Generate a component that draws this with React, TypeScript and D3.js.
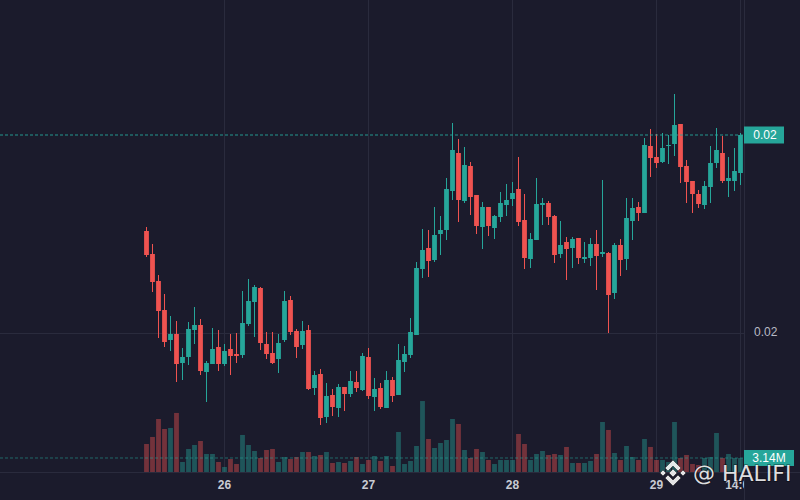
import React from 'react';
import * as d3 from 'd3';

// hourly candles, first bar = 25th 11:00
const startTime = new Date(Date.UTC(2024, 2, 25, 11, 0));

const opens = [
  0.020102, 0.020079, 0.020052, 0.020023, 0.019993, 0.019999, 0.01997, 0.019976, 0.020003, 0.020008,
  0.019961, 0.019969, 0.019986, 0.019969, 0.019984, 0.019979, 0.019978, 0.020009, 0.020031, 0.020045,
  0.019989, 0.01998, 0.019974, 0.019993, 0.020033, 0.020002, 0.019988, 0.020003, 0.019945, 0.019959,
  0.019916, 0.019938, 0.019925, 0.019946, 0.019939, 0.019951, 0.019943, 0.019976, 0.019936, 0.019945,
  0.019925, 0.019953, 0.019938, 0.019971, 0.019978, 0.019998, 0.020064, 0.020085, 0.020073, 0.020099,
  0.020103, 0.020142, 0.02018, 0.020132, 0.020167, 0.020138, 0.020106, 0.020126, 0.020105, 0.020116,
  0.020128, 0.020134, 0.020144, 0.020113, 0.020074, 0.020093, 0.020128, 0.02013, 0.020117, 0.020079,
  0.020091, 0.020085, 0.020095, 0.020074, 0.020075, 0.020089, 0.020079, 0.02008, 0.02004, 0.020088,
  0.020074, 0.020112, 0.020126, 0.02012, 0.020187, 0.020176, 0.020171, 0.020187, 0.020189, 0.020209,
  0.020167, 0.020152, 0.020139, 0.020128, 0.020146, 0.02017, 0.02018, 0.020152, 0.020152, 0.02016,
];

const highs = [
  0.020106, 0.020089, 0.020058, 0.020039, 0.020017, 0.020012, 0.019985, 0.020011, 0.020026, 0.020014,
  0.019972, 0.020005, 0.020003, 0.019989, 0.019999, 0.02, 0.020042, 0.020054, 0.020048, 0.020046,
  0.020001, 0.020001, 0.019999, 0.020042, 0.020037, 0.020004, 0.020012, 0.020008, 0.019962, 0.019964,
  0.01995, 0.019944, 0.019949, 0.019946, 0.019962, 0.019962, 0.01998, 0.019985, 0.019955, 0.01995,
  0.019962, 0.019956, 0.019989, 0.019987, 0.020015, 0.020071, 0.020104, 0.020103, 0.020126, 0.020117,
  0.020155, 0.02021, 0.020194, 0.020186, 0.020171, 0.020138, 0.020131, 0.020126, 0.020118, 0.020141,
  0.020149, 0.020151, 0.020176, 0.020139, 0.0201, 0.020155, 0.020135, 0.020132, 0.020118, 0.020112,
  0.020096, 0.020096, 0.020095, 0.020091, 0.020095, 0.020103, 0.020153, 0.020081, 0.02009, 0.020094,
  0.020135, 0.020135, 0.020131, 0.020195, 0.020204, 0.020199, 0.0202, 0.020198, 0.020239, 0.020209,
  0.020173, 0.020152, 0.020143, 0.020152, 0.020187, 0.020205, 0.020197, 0.020176, 0.020185, 0.0202,
];

const lows = [
  0.020076, 0.020041, 0.019995, 0.019986, 0.019982, 0.019951, 0.019953, 0.019968, 0.019989, 0.019958,
  0.019931, 0.019969, 0.019962, 0.019967, 0.019958, 0.01997, 0.019975, 0.020007, 0.019996, 0.019983,
  0.019974, 0.019969, 0.01996, 0.019991, 0.019998, 0.019975, 0.019984, 0.019943, 0.019938, 0.019908,
  0.01991, 0.019917, 0.019916, 0.019922, 0.019936, 0.019941, 0.019942, 0.019934, 0.019922, 0.019924,
  0.019925, 0.019931, 0.019938, 0.019961, 0.019975, 0.019998, 0.020055, 0.020056, 0.020071, 0.020078,
  0.020093, 0.020133, 0.020111, 0.02013, 0.020118, 0.020099, 0.020084, 0.020097, 0.020094, 0.020111,
  0.020117, 0.020127, 0.020107, 0.020064, 0.020065, 0.020093, 0.020108, 0.020108, 0.02007, 0.020075,
  0.020053, 0.020065, 0.020069, 0.02007, 0.020067, 0.020043, 0.020076, 0.02, 0.020034, 0.020057,
  0.020063, 0.020093, 0.020112, 0.02012, 0.020156, 0.020165, 0.02017, 0.020169, 0.020177, 0.02015,
  0.02013, 0.02012, 0.020125, 0.020124, 0.02013, 0.020165, 0.02015, 0.020136, 0.020142, 0.020148,
];

const closes = [
  0.020078, 0.020051, 0.020022, 0.019991, 0.019999, 0.019969, 0.019976, 0.020004, 0.020008, 0.019962,
  0.01997, 0.019984, 0.019969, 0.019982, 0.019977, 0.019977, 0.02001, 0.020032, 0.020046, 0.01999,
  0.019979, 0.01997, 0.01999, 0.020032, 0.020001, 0.019986, 0.020002, 0.019944, 0.019958, 0.019915,
  0.019937, 0.019926, 0.019946, 0.019939, 0.019952, 0.019945, 0.019977, 0.019937, 0.019944, 0.019926,
  0.019953, 0.019937, 0.019973, 0.019979, 0.020001, 0.020065, 0.020083, 0.020072, 0.020098, 0.020103,
  0.020144, 0.020183, 0.020133, 0.020168, 0.020136, 0.020107, 0.020126, 0.020107, 0.020117, 0.02013,
  0.020133, 0.02014, 0.020111, 0.020075, 0.020094, 0.020129, 0.02013, 0.020116, 0.020078, 0.020088,
  0.020084, 0.020094, 0.020075, 0.020076, 0.020089, 0.020077, 0.020081, 0.020038, 0.020088, 0.020073,
  0.020115, 0.020125, 0.02012, 0.020188, 0.020175, 0.02017, 0.020185, 0.020188, 0.020208, 0.020166,
  0.020151, 0.020139, 0.020129, 0.020147, 0.02017, 0.020183, 0.020152, 0.020155, 0.020162, 0.020198,
];

// volume in millions
const volumes = [
  6.28, 7.85, 11.88, 9.64, 9.87, 13.23, 2.24, 5.16, 6.05, 6.95,
  4.04, 4.04, 2.24, 1.12, 2.91, 1.79, 8.3, 6.05, 4.71, 3.14,
  4.93, 5.16, 2.24, 3.36, 2.91, 3.36, 4.48, 4.48, 3.59, 3.81,
  4.48, 2.02, 2.24, 2.02, 2.47, 3.36, 1.79, 2.69, 3.59, 2.47,
  3.59, 1.35, 8.97, 1.79, 2.47, 5.83, 15.9, 7.4, 5.38, 6.5,
  7.17, 11.88, 10.76, 4.93, 3.14, 5.16, 4.48, 2.69, 1.79, 2.69,
  2.69, 2.69, 8.52, 6.28, 2.69, 4.04, 4.71, 3.81, 4.04, 3.81,
  5.61, 2.02, 2.02, 2.02, 2.47, 4.04, 11.21, 9.42, 4.26, 2.69,
  5.83, 3.36, 2.69, 7.4, 5.61, 2.69, 2.69, 2.24, 11.21, 3.14,
  3.81, 1.79, 1.57, 3.14, 3.36, 8.74, 3.14, 4.04, 3.14, 3.14,
];

const UP = '#26a69a';
const DOWN = '#ef5350';
const BG = '#1b1b2c';
const GRID = '#2a2b3d';

const W = 800;
const H = 500;
const plotRight = 744;
const plotBottom = 472;

const App: React.FC = () => {
  const candles = opens.map((o, i) => ({
    time: d3.utcHour.offset(startTime, i),
    open: o,
    high: highs[i],
    low: lows[i],
    close: closes[i],
    volume: volumes[i],
  }));

  const first = candles[0].time;
  const last = candles[candles.length - 1].time;

  const x = d3.scaleUtc().domain([first, last]).range([146.5, 740.5]);
  const step = x(d3.utcHour.offset(first, 1)) - x(first);
  const bodyW = step * 0.8;

  const y = d3.scaleLinear().domain([0.02, 0.0201]).range([333, 233]);
  const yVol = d3.scaleLinear().domain([0, 16]).range([plotBottom, 400.6]);

  const dayTicks = d3.utcDay.range(d3.utcHour.offset(first, 1), last);
  const timeTicks = [...dayTicks, last];
  const fmtDay = d3.utcFormat('%-d');
  const fmtHour = d3.utcFormat('%H:%M');

  const priceTicks = y.ticks(10).filter(t => y(t) > 10 && y(t) < plotBottom - 10 && Math.abs(t - 0.02) < 1e-9);
  const fmtPrice = d3.format('.2f');

  const lastCandle = candles[candles.length - 1];
  const lastY = y(lastCandle.close);
  const lastVolY = yVol(lastCandle.volume);

  return (
    <svg
      width={W}
      height={H}
      style={{ position: 'fixed', left: 0, top: 0, display: 'block' }}
      fontFamily="'Liberation Sans', Arial, sans-serif"
    >
      <defs>
        <clipPath id="plotClip">
          <rect x={0} y={0} width={plotRight} height={H} />
        </clipPath>
      </defs>
      <rect width={W} height={H} fill={BG} />

      {/* grid */}
      {timeTicks.map((t, i) => (
        <line key={'vg' + i} x1={Math.round(x(t)) - 0.5} x2={Math.round(x(t)) - 0.5} y1={0} y2={plotBottom} stroke={GRID} />
      ))}
      {priceTicks.map((t, i) => (
        <line key={'hg' + i} x1={0} x2={plotRight} y1={y(t) + 0.5} y2={y(t) + 0.5} stroke={GRID} />
      ))}

      {/* volume */}
      {candles.map((d, i) => (
        <rect
          key={'v' + i}
          x={x(d.time) - bodyW / 2}
          y={yVol(d.volume)}
          width={bodyW}
          height={plotBottom - yVol(d.volume)}
          fill={d.close >= d.open ? UP : DOWN}
          opacity={0.42}
        />
      ))}

      {/* candles */}
      {candles.map((d, i) => {
        const color = d.close >= d.open ? UP : DOWN;
        const top = y(Math.max(d.open, d.close));
        const bot = y(Math.min(d.open, d.close));
        const cx = Math.round(x(d.time)) - 0.5;
        return (
          <g key={'c' + i}>
            <line x1={cx} x2={cx} y1={y(d.high)} y2={y(d.low)} stroke={color} strokeWidth={1} />
            <rect x={x(d.time) - bodyW / 2} y={top} width={bodyW} height={Math.max(1, bot - top)} fill={color} />
          </g>
        );
      })}

      {/* last price / last volume lines */}
      <line x1={0} x2={plotRight} y1={lastY} y2={lastY} stroke={UP} strokeDasharray="3 2" strokeWidth={1} opacity={0.9} />
      <line x1={0} x2={plotRight} y1={lastVolY} y2={lastVolY} stroke={UP} strokeDasharray="3 2" strokeWidth={1} opacity={0.55} />

      {/* borders */}
      <line x1={plotRight + 0.5} x2={plotRight + 0.5} y1={0} y2={H} stroke={GRID} />
      <line x1={0} x2={W} y1={plotBottom + 0.5} y2={plotBottom + 0.5} stroke={GRID} />

      {/* time axis */}
      <g clipPath="url(#plotClip)">
        {timeTicks.map((t, i) => (
          <text
            key={'tx' + i}
            x={x(t)}
            y={486}
            textAnchor="middle"
            dominantBaseline="middle"
            fontSize={12}
            fontWeight="bold"
            fill="#c9cbd3"
          >
            {i === timeTicks.length - 1 ? fmtHour(t) : fmtDay(t)}
          </text>
        ))}
      </g>

      {/* price axis */}
      {priceTicks.map((t, i) => (
        <text key={'py' + i} x={754} y={y(t)} dominantBaseline="middle" fontSize={12} fill="#b8bac4">
          {fmtPrice(t)}
        </text>
      ))}
      <rect x={plotRight} y={lastY - 8.5} width={40} height={17} fill={UP} />
      <text x={765} y={lastY + 0.5} textAnchor="middle" dominantBaseline="middle" fontSize={12} fill="#ffffff">
        {fmtPrice(lastCandle.close)}
      </text>
      <rect x={plotRight} y={lastVolY - 8} width={50} height={16} fill={UP} />
      <text x={769} y={lastVolY + 0.5} textAnchor="middle" dominantBaseline="middle" fontSize={12} fill="#ffffff">
        {d3.format('.2f')(lastCandle.volume) + 'M'}
      </text>

      {/* watermark */}
      <g transform="translate(673,473)" fill="#ffffff" opacity={0.88} stroke="rgba(0,0,0,0.45)" strokeWidth={1}>
        <path d="M0,-4 L4,0 L0,4 L-4,0 Z" />
        <path d="M-10,-3 L-7,0 L-10,3 L-13,0 Z" />
        <path d="M10,-3 L13,0 L10,3 L7,0 Z" />
        <path d="M0,-13 L8,-5 L5,-2 L0,-7 L-5,-2 L-8,-5 Z" />
        <path d="M0,13 L8,5 L5,2 L0,7 L-5,2 L-8,5 Z" />
      </g>
      <text
        x={693}
        y={481}
        fontSize={22}
        fontFamily="'DejaVu Sans', 'Liberation Sans', sans-serif"
        fill="#ffffff"
        opacity={0.85}
        stroke="rgba(0,0,0,0.5)"
        strokeWidth={1.5}
        style={{ paintOrder: 'stroke' }}
      >
        @ HALIFI
      </text>
    </svg>
  );
};

export default App;
